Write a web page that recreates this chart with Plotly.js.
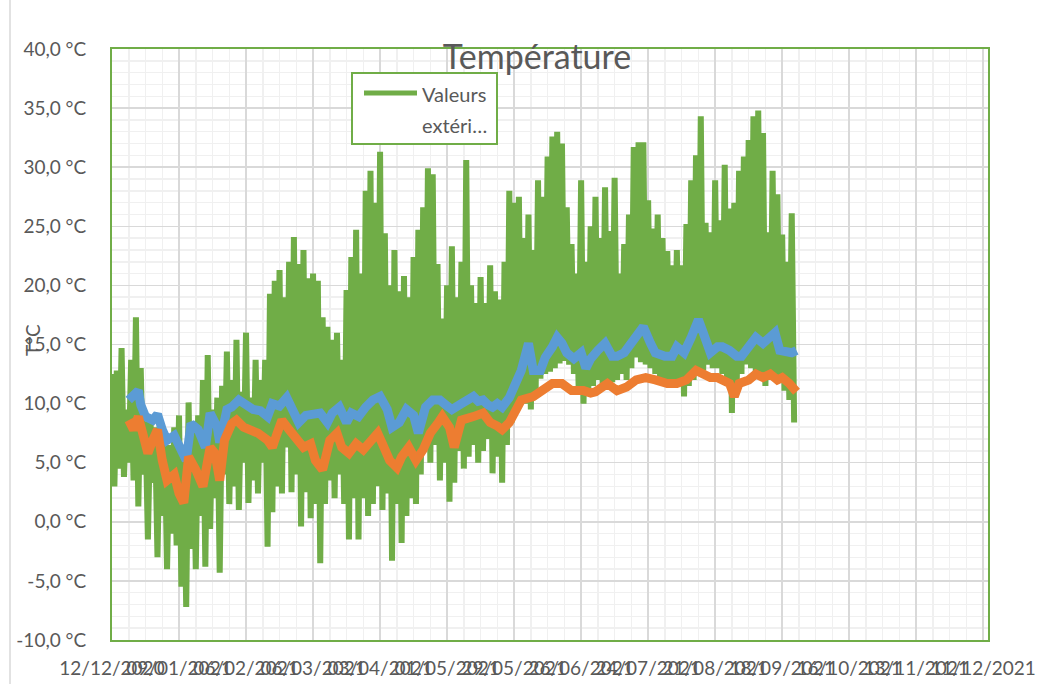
<!DOCTYPE html>
<html>
<head>
<meta charset="utf-8">
<script src="https://cdn.plot.ly/plotly-3.0.1.min.js"></script>
<style>html,body{margin:0;padding:0;background:#fff;}#chart{width:1050px;height:684px;}</style>
</head>
<body>
<div id="chart"></div>
<script>
// ---- data (day offsets from 12/12/2020) ----
const startDay = '2020-12-12';
const chartTitle = 'Température';
const yTitle = 'T°C';
const legendLine1 = 'Valeurs';
const legendLine2 = 'extéri…';

// outdoor values: highs on even days 0..284, lows on odd days 1..285
const greenHigh = [
  12.5, 12.8, 14.7, 9.5, 13.7, 17.3, 13.0, 8.5, 9.0, 8.0,
  8.5, 7.5, 6.5, 8.0, 9.0, 6.0, 10.1, 8.5, 9.0, 12.0,
  14.1, 9.5, 10.5, 11.5, 14.4, 12.0, 15.4, 11.0, 16.0, 10.5,
  13.7, 12.0, 13.7, 19.3, 20.4, 21.3, 19.0, 22.0, 24.1, 21.8,
  23.0, 20.6, 21.0, 20.4, 17.3, 16.5, 15.4, 16.0, 13.7, 19.6,
  22.4, 24.7, 21.0, 28.0, 29.7, 27.0, 31.3, 24.4, 20.0, 23.0,
  19.5, 20.8, 19.0, 22.4, 24.7, 26.6, 29.9, 29.4, 21.8, 17.2,
  20.0, 23.3, 19.0, 22.0, 30.6, 20.0, 18.5, 20.7, 18.5, 21.7,
  19.5, 18.8, 22.0, 28.0, 27.0, 27.5, 24.0, 26.0, 23.0, 28.9,
  27.5, 30.9, 32.6, 33.0, 32.0, 26.6, 23.5, 21.0, 28.9, 22.0,
  25.0, 27.5, 24.0, 28.3, 24.6, 29.1, 21.0, 23.5, 26.0, 31.7,
  32.1, 32.1, 27.2, 24.8, 26.0, 24.0, 22.9, 21.7, 23.0, 21.7,
  25.2, 28.9, 31.0, 34.3, 25.3, 24.5, 28.9, 25.5, 30.2, 26.5,
  27.0, 29.7, 30.9, 32.3, 34.3, 34.8, 32.9, 24.5, 29.7, 27.7,
  24.3, 22.0, 26.1
];
const greenLow = [
  3.0, 4.5, 3.8, 5.0, 3.5, 1.3, 4.0, -1.5, 3.3, -3.0,
  0.5, -4.0, -1.0, -2.0, -5.5, -7.2, -2.3, -4.0, 0.5, -3.8,
  -0.6, 2.0, -4.3, 4.0, 1.5, 3.0, 1.0, 5.0, 1.6, 3.5,
  2.4, 5.0, -2.1, 0.8, 3.0, 2.4, 6.3, 2.5, 4.0, -0.4,
  2.5, 0.3, 1.5, -3.5, 1.5, 3.5, 2.0, 4.0, 1.5, -1.5,
  2.0, -1.5, 2.0, 0.5, 1.5, 3.0, 1.0, 2.4, -3.3, 1.5,
  -1.8, 0.5, 2.0, 1.5, 4.0, 7.0, 5.0, 6.5, 3.5, 5.0,
  1.7, 3.3, 6.0, 4.5, 5.5, 6.5, 5.0, 6.0, 7.0, 4.1,
  5.5, 3.3, 6.5, 8.4, 9.5, 10.5, 10.0, 9.5, 11.0, 12.1,
  12.5, 12.7, 13.0, 13.4, 13.6, 13.3, 12.5, 11.0, 10.0, 11.1,
  11.5, 12.0, 11.5, 11.8, 11.8, 12.0, 12.5, 12.0, 13.0, 13.9,
  13.5, 13.3, 13.0, 12.5, 11.8, 12.0, 11.6, 11.5, 11.5, 10.6,
  11.5, 12.0, 12.4, 12.8, 13.3, 13.0, 13.0, 12.5, 11.5, 9.2,
  11.1, 12.5, 13.3, 13.0, 12.2, 12.5, 11.5, 12.0, 12.5, 11.8,
  11.1, 10.3, 8.4
];

const blueDays = [
  7, 9, 11, 12, 14, 17, 19, 21, 23, 26,
  28, 31, 33, 36, 39, 41, 44, 45, 48, 50,
  53, 56, 59, 62, 65, 67, 70, 73, 75, 78,
  81, 84, 87, 90, 92, 95, 98, 100, 103, 106,
  109, 112, 115, 117, 120, 123, 126, 128, 131, 134,
  137, 140, 142, 146, 149, 151, 153, 155, 157, 159,
  161, 163, 166, 169, 171, 174, 176, 179, 181, 184,
  186, 188, 190, 193, 196, 198, 200, 203, 206, 209,
  211, 214, 217, 220, 222, 225, 227, 231, 234, 236,
  239, 242, 245, 247, 250, 253, 255, 258, 261, 263,
  266, 269, 272, 275, 277, 279, 282, 284, 286
];
const blueVals = [
  10.3, 10.8, 11.1, 9.9, 8.9, 8.6, 9.1, 7.8, 6.9, 7.3,
  6.3, 5.2, 8.3, 7.8, 6.3, 9.2, 8.0, 6.7, 9.5, 9.7,
  10.3, 9.9, 9.5, 9.4, 8.9, 10.0, 9.8, 10.5, 9.5, 8.4,
  9.0, 9.2, 9.2, 8.4, 9.2, 9.7, 8.4, 9.2, 8.9, 9.7,
  10.3, 10.6, 9.5, 8.0, 8.4, 9.5, 9.0, 7.5, 9.7, 10.3,
  10.3, 9.8, 9.5, 10.0, 10.4, 10.6, 10.2, 10.3, 9.9, 9.7,
  10.0, 9.7, 10.5, 11.7, 12.8, 15.1, 12.8, 12.8, 13.9, 14.8,
  15.6, 15.1, 14.3, 13.8, 14.3, 13.0, 13.8, 14.5, 15.1, 14.0,
  14.0, 14.3, 15.1, 16.0, 16.5, 15.1, 14.3, 14.0, 14.0, 14.8,
  14.3, 15.6, 17.1, 16.0, 14.3, 14.8, 14.8, 14.5, 14.0, 14.0,
  14.8, 15.6, 15.1, 15.6, 16.0, 14.5, 14.3, 14.3, 14.5
];

const orangeDays = [
  7, 9, 11, 13, 15, 17, 19, 21, 23, 26,
  28, 30, 32, 35, 38, 41, 43, 45, 47, 50,
  52, 55, 58, 61, 65, 67, 69, 71, 74, 77,
  80, 83, 85, 88, 91, 94, 96, 99, 102, 105,
  108, 111, 113, 116, 119, 121, 124, 127, 130, 133,
  136, 138, 141, 143, 146, 148, 151, 155, 158, 161,
  163, 166, 169, 171, 176, 180, 184, 188, 192, 197,
  200, 202, 207, 211, 215, 219, 223, 227, 232, 236,
  240, 244, 247, 250, 253, 255, 258, 260, 262, 266,
  269, 272, 275, 278, 280, 283, 285, 286
];
const orangeVals = [
  8.6, 7.8, 8.9, 7.5, 5.8, 6.9, 7.8, 5.2, 3.5, 4.0,
  2.4, 1.6, 5.5, 4.4, 3.0, 6.3, 5.8, 3.5, 6.9, 8.3,
  8.6, 8.0, 7.8, 7.5, 6.9, 6.3, 7.5, 8.6, 7.8, 6.9,
  6.3, 6.6, 5.2, 4.4, 6.9, 7.5, 6.3, 5.8, 6.6, 6.1,
  6.9, 7.5, 6.6, 5.2, 4.6, 5.5, 6.3, 5.2, 6.1, 7.5,
  8.3, 8.9, 8.0, 6.3, 8.6, 8.8, 8.9, 9.2, 8.4, 8.1,
  7.8, 8.4, 9.7, 10.3, 10.6, 11.1, 11.7, 11.7, 11.1, 11.1,
  10.9, 11.0, 11.7, 11.1, 11.4, 12.0, 12.2, 12.0, 11.7, 11.7,
  12.0, 12.8, 12.5, 12.2, 12.2, 12.0, 11.7, 10.6, 11.7, 12.0,
  12.5, 12.2, 12.5, 12.0, 12.2, 11.7, 11.1, 11.0
];

const xTickDates = ['2020-12-12','2021-01-09','2021-02-06','2021-03-06','2021-04-03','2021-05-01','2021-05-29',
  '2021-06-26','2021-07-24','2021-08-21','2021-09-18','2021-10-16','2021-11-13','2021-12-11'];
const xTickLabels = ['12/12/2020','09/01/2021','06/02/2021','06/03/2021','03/04/2021','01/05/2021','29/05/2021',
  '26/06/2021','24/07/2021','21/08/2021','18/09/2021','16/10/2021','13/11/2021','11/12/2021'];
const yTickVals = [-10, -5, 0, 5, 10, 15, 20, 25, 30, 35, 40];
const yTickLabels = ['-10,0 °C','-5,0 °C','0,0 °C','5,0 °C','10,0 °C','15,0 °C','20,0 °C','25,0 °C','30,0 °C','35,0 °C','40,0 °C'];

// ---- build ----
const DAY = 86400000;
const t0 = Date.parse(startDay + 'T00:00:00Z');
const toX = d => new Date(t0 + d * DAY).toISOString().replace('T', ' ').slice(0, 19);

const gx = [], gy = [];
const n = Math.min(greenHigh.length, greenLow.length);
for (let k = 0; k < n; k++) {
  gx.push(toX(2 * k)); gy.push(greenHigh[k]);
  gx.push(toX(2 * k + 1)); gy.push(greenLow[k]);
}

const GREEN = '#70AD47', BLUE = '#5B9BD5', ORANGE = '#ED7D31', TXT = '#595959';
const FONT = 'Lato, "Open Sans", sans-serif';

const traces = [
  {x: gx, y: gy, type: 'scatter', mode: 'lines', name: 'Valeurs extérieures',
   line: {color: GREEN, width: 6}, hoverinfo: 'skip'},
  {x: blueDays.map(toX), y: blueVals, type: 'scatter', mode: 'lines', name: 'Série 2',
   line: {color: BLUE, width: 9}, hoverinfo: 'skip'},
  {x: orangeDays.map(toX), y: orangeVals, type: 'scatter', mode: 'lines', name: 'Série 3',
   line: {color: ORANGE, width: 9}, hoverinfo: 'skip'}
];

// pixel helpers for plot-relative placement
const L = 112, R = 62, T = 49, B = 44, W = 1050, H = 684;
const PW = W - L - R, PH = H - T - B;
const px = x => (x - L) / PW;
const py = y => (H - B - y) / PH;

const layout = {
  width: W, height: H,
  margin: {l: L, r: R, t: T, b: B, pad: 0},
  paper_bgcolor: '#ffffff', plot_bgcolor: '#ffffff',
  showlegend: false,
  font: {family: FONT, color: TXT, size: 18},
  title: {text: chartTitle, font: {family: FONT, size: 34, color: TXT},
          x: px(537), xref: 'paper', xanchor: 'center', y: 1 - 57 / H, yref: 'container', yanchor: 'middle'},
  xaxis: {
    type: 'date',
    range: [toX(0), toX(366)],
    tickmode: 'array', tickvals: xTickDates, ticktext: xTickLabels,
    tickangle: 0, ticks: '', ticklabelstandoff: 10,
    tickfont: {family: FONT, size: 19, color: TXT},
    showgrid: true, gridcolor: '#D9D9D9', gridwidth: 1.5,
    minor: {tickmode: 'linear', tick0: startDay, dtick: 7 * DAY, showgrid: true, gridcolor: '#F0F0F0', gridwidth: 1.5, ticks: ''},
    showline: true, mirror: true, linecolor: GREEN, linewidth: 2,
    zeroline: false, fixedrange: true
  },
  yaxis: {
    range: [-10, 40],
    tickmode: 'array', tickvals: yTickVals, ticktext: yTickLabels,
    ticks: '', ticklabelstandoff: 20,
    tickfont: {family: FONT, size: 19, color: TXT},
    showgrid: true, gridcolor: '#D9D9D9', gridwidth: 1.5,
    minor: {tickmode: 'linear', tick0: 0, dtick: 1, showgrid: true, gridcolor: '#F0F0F0', gridwidth: 1.5, ticks: ''},
    showline: true, mirror: true, linecolor: GREEN, linewidth: 2,
    zeroline: false, fixedrange: true
  },
  shapes: [
    {type: 'line', xref: 'paper', yref: 'paper', x0: px(10), x1: px(10), y0: py(0), y1: py(684),
     line: {color: '#D9D9D9', width: 1.5}, layer: 'below'},
    {type: 'rect', xref: 'paper', yref: 'paper', x0: px(352), x1: px(497), y0: py(144), y1: py(73),
     fillcolor: '#ffffff', line: {color: GREEN, width: 2}, layer: 'above'},
    {type: 'line', xref: 'paper', yref: 'paper', x0: px(364), x1: px(417), y0: py(93), y1: py(93),
     line: {color: GREEN, width: 5}, layer: 'above'}
  ],
  annotations: [
    {text: legendLine1, xref: 'paper', yref: 'paper', x: px(420), y: py(94), xanchor: 'left', yanchor: 'middle',
     showarrow: false, font: {family: FONT, size: 20, color: TXT}},
    {text: legendLine2, xref: 'paper', yref: 'paper', x: px(420), y: py(125), xanchor: 'left', yanchor: 'middle',
     showarrow: false, font: {family: FONT, size: 20, color: TXT}},
    {text: yTitle, xref: 'paper', yref: 'paper', x: px(32), y: py(340), xanchor: 'center', yanchor: 'middle',
     textangle: -90, showarrow: false, font: {family: FONT, size: 19, color: TXT}}
  ]
};

Plotly.newPlot('chart', traces, layout, {displayModeBar: false, staticPlot: true});
</script>
</body>
</html>
